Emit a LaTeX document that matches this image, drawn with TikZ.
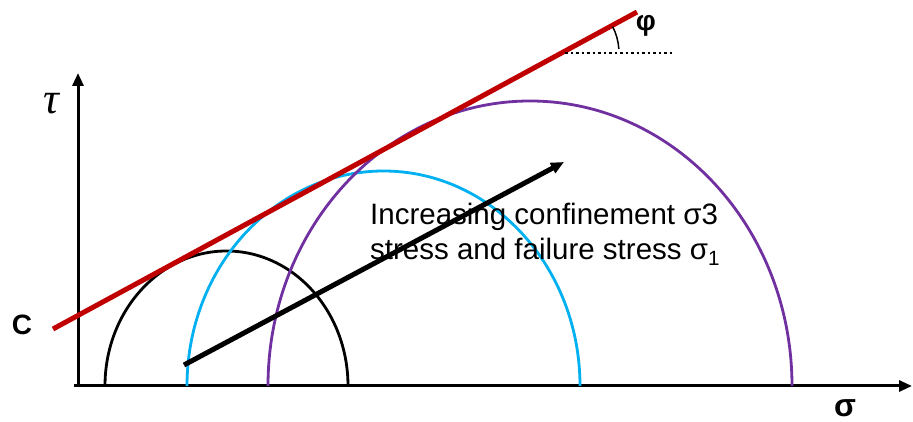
\documentclass[tikz,border=0pt]{standalone}
\usepackage{fontspec}
\setmainfont{Liberation Sans}
\newfontfamily\taufont{Liberation Serif}
\usetikzlibrary{arrows.meta}
\definecolor{envred}{RGB}{192,0,0}
\definecolor{mohrblue}{RGB}{0,176,240}
\definecolor{mohrpurple}{RGB}{112,48,160}
\begin{document}
\begin{tikzpicture}[x=1pt, y=1pt, >={Triangle[width=11pt,length=13pt]},
  axis/.style={line width=3pt},
  mohr/.style={line width=2.8pt},
  lbl/.style={inner sep=0pt, font=\bfseries\fontsize{28}{30}\selectfont}]
\useasboundingbox (0,0) rectangle (913,422);
% axes
\coordinate (o) at (78,36);
\coordinate (ytop) at (78,349);
\coordinate (xend) at (912,36);
\draw[axis, ->] (78,36) -- (ytop);
\draw[axis, ->] (74,36) -- (xend);
\node[inner sep=0pt, font=\taufont\itshape\fontsize{44}{44}\selectfont] (tau) at (51,318) {τ};
\node[lbl, font=\bfseries\fontsize{32}{32}\selectfont] (sig) at (845,14) {σ};
\node[lbl] (c) at (22,97) {C};
% Mohr circles
\draw[mohr, black] (348,36) arc[start angle=0, end angle=180, x radius=121.5, y radius=135];
\draw[mohr, mohrblue] (580,36) arc[start angle=0, end angle=180, x radius=196.5, y radius=215];
\draw[mohr, mohrpurple] (792,36) arc[start angle=0, end angle=180, x radius=262, y radius=285];
% envelope
\coordinate (e1) at (53,93);
\coordinate (e2) at (637,410);
\draw[line width=5pt, envred] (e1) -- (e2);
\coordinate (hz) at (561,369);
\draw[line width=2.5pt, dash pattern=on 2.5pt off 3pt] (565,369) -- (673,369);
\draw[line width=1.5pt] (hz) ++(4:58) arc[start angle=4, end angle=27, radius=58];
\node[lbl] (phi) at (646,396) {φ};
% arrow
\coordinate (a1) at (184,57);
\coordinate (a2) at (564,260);
\draw[line width=5pt, ->] (a1) -- (a2);
\node[anchor=base west, inner sep=0pt, align=left, font=\fontsize{29.5}{35}\selectfont] (txt) at (370,162)
  {Increasing confinement σ3\\stress and failure stress σ\textsubscript{1}};
\end{tikzpicture}
\end{document}
